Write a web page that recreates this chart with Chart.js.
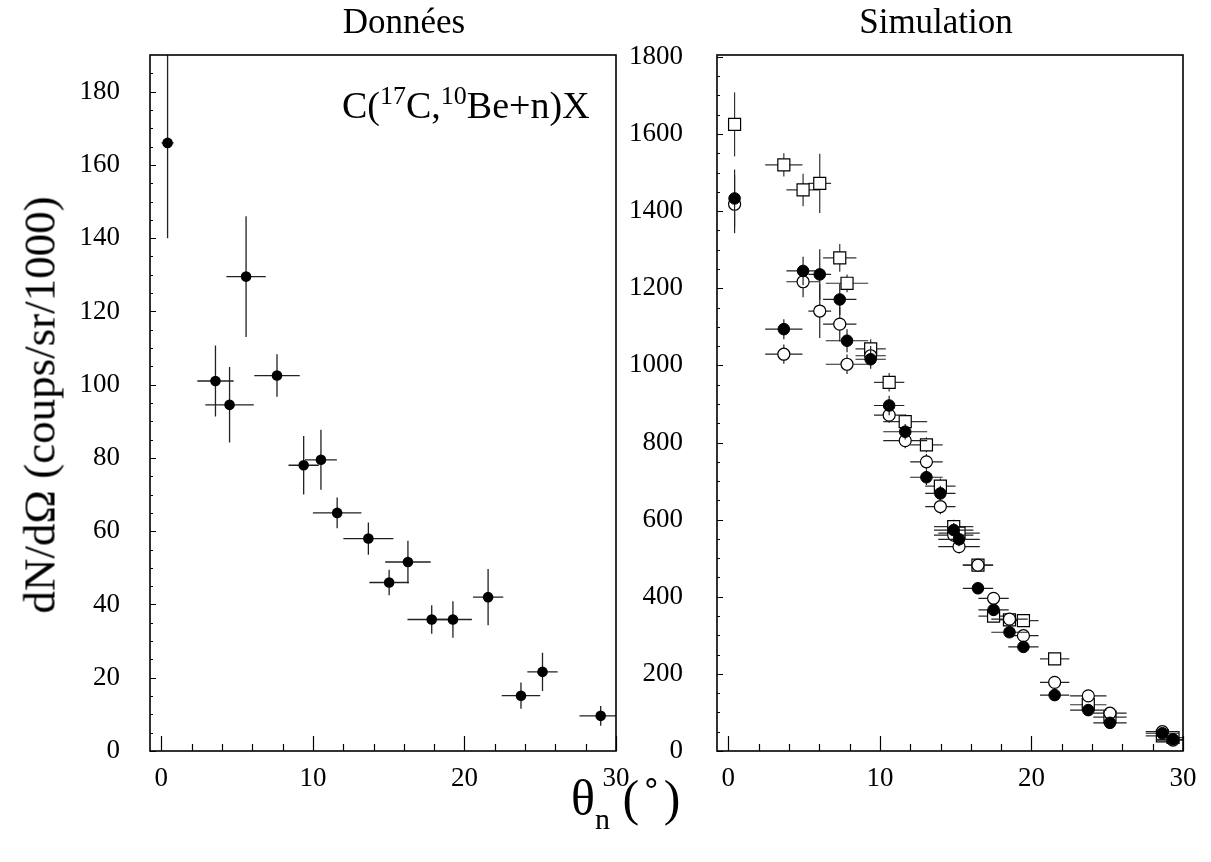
<!DOCTYPE html>
<html><head><meta charset="utf-8">
<script src="https://cdn.jsdelivr.net/npm/chart.js@4.4.1/dist/chart.umd.min.js"></script>
<style>
html,body{margin:0;padding:0;background:#fff;}
body{width:1211px;height:862px;position:relative;overflow:hidden;font-family:"Liberation Serif","DejaVu Serif",serif;color:#000;}
canvas{position:absolute;top:0;}
.t{position:absolute;white-space:nowrap;line-height:1;font-family:"Liberation Serif",serif;}
</style></head><body>
<canvas id="cL" width="640" height="862" style="left:0px"></canvas>
<canvas id="cR" width="611" height="862" style="left:600px"></canvas>
<div class="t" style="left:404px;top:4px;font-size:35px;transform:translateX(-50%)">Données</div>
<div class="t" style="left:936px;top:4px;font-size:35px;transform:translateX(-50%)">Simulation</div>
<div class="t" style="left:342px;top:86px;font-size:38px">C(<span style="font-size:26px;position:relative;top:-14px">17</span>C,<span style="font-size:26px;position:relative;top:-14px">10</span>Be+n)X</div>
<div class="t" style="left:40px;top:405px;font-size:45px;transform:translate(-50%,-50%) rotate(-90deg)">dN/dΩ (coups/sr/1000)</div>
<div class="t" style="left:571px;top:773px;font-size:50px">θ<span style="font-size:30px;position:relative;top:14px">n</span>&nbsp;(<span style="padding:0 4px">˚</span>)</div>
<script>
// ---- Left panel: data ----
const dataTheta      = [0.41, 3.57, 4.5, 5.59, 7.63, 9.39, 10.53, 11.6, 13.66, 15.03, 16.27, 17.84, 19.24, 21.56, 23.73, 25.15, 28.99];
const dataThetaErr   = [0.4, 1.2, 1.6, 1.3, 1.5, 1.0, 1.05, 1.6, 1.65, 1.3, 1.5, 1.6, 1.25, 1.0, 1.27, 1.0, 1.4];
const dataCounts     = [166, 101, 94.5, 129.5, 102.5, 78, 79.5, 65, 58, 46, 51.6, 35.9, 35.9, 42, 15.1, 21.6, 9.6];
const dataCountsErr  = [26, 9.7, 10.3, 16.5, 5.8, 8, 8.2, 4.2, 4.4, 3.5, 5.8, 3.9, 5, 7.7, 3.6, 5.2, 2.7];

// ---- Right panel: simulation ----
const simTheta     = [0.41, 3.66, 4.93, 6.03, 7.35, 7.83, 9.39, 10.61, 11.67, 13.07, 13.99, 14.87, 15.22, 16.47, 17.5, 18.55, 19.47, 21.53, 23.75, 25.18, 28.64, 29.34];
const simThetaErr  = [0, 1.23, 1.1, 0.75, 1.1, 1.4, 1.0, 1.0, 1.45, 1.07, 1.0, 1.3, 1.37, 1.0, 1.0, 1.2, 1.0, 0.97, 1.2, 1.1, 1.1, 1.1];
const simFilled    = [1433, 1094, 1245, 1236, 1171, 1064, 1016, 896, 828, 710, 668, 573, 549, 422, 366, 308, 270, 145, 106, 73, 46, 30];
const simFilledErr = [75, 26, 37, 65, 40, 30, 25, 25, 20, 20, 20, 18, 18, 15, 15, 12, 12, 10, 8, 7, 5, 5];
const simOpen      = [1418, 1029, 1217, 1141, 1107, 1003, 1025, 871, 805, 750, 634, 560, 530, 482, 396, 342, 299, 178, 143, 98, 50, 28];
const simOpenErr   = [75, 25, 40, 70, 45, 25, 25, 20, 20, 20, 20, 18, 18, 15, 15, 12, 12, 10, 8, 7, 5, 5];
const simSquare    = [1625, 1520, 1455, 1472, 1279, 1213, 1043, 956, 854, 794, 687, 582, 565, 482, 350, 340, 338, 239, 120, 88, 39, 35];
const simSquareErr = [83, 30, 42, 77, 36, 23, 25, 24, 20, 20, 20, 18, 18, 15, 15, 12, 12, 14, 8, 7, 5, 5];

// ---- Tick labels ----
const xTickLabels      = [0, 10, 20, 30];
const yTickLabelsLeft  = [0, 20, 40, 60, 80, 100, 120, 140, 160, 180];
const yTickLabelsRight = [0, 200, 400, 600, 800, 1000, 1200, 1400, 1600, 1800];

function range(a, b, s){ const r=[]; for(let v=a; v<=b+1e-9; v+=s) r.push(+v.toFixed(6)); return r; }

const panelPlugin = {
  id: 'panel',
  beforeDatasetDraw(chart, args) {
    const ds = chart.data.datasets[args.index];
    if (!ds.err) return;
    const ctx = chart.ctx, xs = chart.scales.x, ys = chart.scales.y, a = chart.chartArea;
    ctx.save();
    ctx.beginPath(); ctx.rect(a.left, a.top, a.right - a.left, a.bottom - a.top); ctx.clip();
    ctx.strokeStyle = ds.errColor; ctx.lineWidth = ds.errWidth;
    ds.data.forEach((p, i) => {
      const px = xs.getPixelForValue(p.x), py = ys.getPixelForValue(p.y);
      const ex = ds.err.x[i], ey = ds.err.y[i];
      ctx.beginPath();
      if (ex > 0) { ctx.moveTo(xs.getPixelForValue(p.x - ex), py); ctx.lineTo(xs.getPixelForValue(p.x + ex), py); }
      if (ey > 0) { ctx.moveTo(px, ys.getPixelForValue(p.y - ey)); ctx.lineTo(px, ys.getPixelForValue(p.y + ey)); }
      ctx.stroke();
    });
    ctx.restore();
  },
  afterDraw(chart, args, opts) {
    const ctx = chart.ctx, a = chart.chartArea, xs = chart.scales.x, ys = chart.scales.y;
    ctx.save();
    ctx.strokeStyle = '#000';
    ctx.lineWidth = 1.2;
    ctx.beginPath();
    opts.xMinor.forEach(v => {
      const p = Math.round(xs.getPixelForValue(v)) + 0.5;
      const L = opts.xMajor.includes(v) ? 15 : 7;
      ctx.moveTo(p, a.bottom); ctx.lineTo(p, a.bottom - L);
    });
    opts.yMinor.forEach(v => {
      const p = Math.round(ys.getPixelForValue(v)) + 0.5;
      const L = opts.yMajor.includes(v) ? 6 : 3;
      ctx.moveTo(a.left, p); ctx.lineTo(a.left + L, p);
    });
    ctx.stroke();
    ctx.lineWidth = 1.6;
    ctx.strokeRect(a.left, a.top, a.right - a.left, a.bottom - a.top);
    ctx.restore();
  }
};

function makeScales(yMax, yTicks, yWidth, yPad) {
  return {
    x: {
      type: 'linear', min: -0.75, max: 30,
      afterBuildTicks: s => { s.ticks = xTickLabels.map(v => ({ value: v })); },
      afterFit: s => { s.height = 40; },
      grid: { display: false }, border: { display: false },
      ticks: { font: { family: 'Liberation Serif', size: 27 }, color: '#000', padding: 4, maxRotation: 0, autoSkip: false, callback: v => String(v) }
    },
    y: {
      type: 'linear', min: 0, max: yMax,
      afterBuildTicks: s => { s.ticks = yTicks.map(v => ({ value: v })); },
      afterFit: s => { s.width = yWidth; },
      grid: { display: false }, border: { display: false },
      ticks: { font: { family: 'Liberation Serif', size: 27 }, color: '#000', padding: yPad, autoSkip: false, callback: v => String(v) }
    }
  };
}

const pts = (xs, ys) => xs.map((x, i) => ({ x, y: ys[i] }));

new Chart(document.getElementById('cL'), {
  type: 'scatter',
  data: { datasets: [{
    data: pts(dataTheta, dataCounts),
    pointStyle: 'circle', pointRadius: 5.3, backgroundColor: '#000', borderColor: '#000', borderWidth: 0,
    err: { x: dataThetaErr, y: dataCountsErr }, errColor: '#222', errWidth: 1.3
  }]},
  options: {
    responsive: false, animation: false, events: [],
    layout: { padding: { left: 0, top: 55, right: 24, bottom: 71 } },
    plugins: { legend: { display: false }, tooltip: { enabled: false },
      panel: { xMajor: [0, 10, 20, 30], xMinor: range(0, 30, 2), yMajor: yTickLabelsLeft, yMinor: range(0, 185, 5) } },
    scales: makeScales(190, yTickLabelsLeft, 150, 22)
  },
  plugins: [panelPlugin]
});

new Chart(document.getElementById('cR'), {
  type: 'scatter',
  data: { datasets: [
    { data: pts(simTheta, simFilled), pointStyle: 'circle', pointRadius: 5.8, backgroundColor: '#000', borderColor: '#000', borderWidth: 1,
      err: { x: simThetaErr, y: simFilledErr }, errColor: '#222', errWidth: 1.2 },
    { data: pts(simTheta, simOpen), pointStyle: 'circle', pointRadius: 6, backgroundColor: '#fff', borderColor: '#000', borderWidth: 1.2,
      err: { x: simThetaErr, y: simOpenErr }, errColor: '#222', errWidth: 1.2 },
    { data: pts(simTheta, simSquare), pointStyle: 'rect', pointRadius: 8.5, backgroundColor: '#fff', borderColor: '#000', borderWidth: 1.2,
      err: { x: simThetaErr, y: simSquareErr }, errColor: '#333', errWidth: 1.2 }
  ]},
  options: {
    responsive: false, animation: false, events: [],
    layout: { padding: { left: 0, top: 55, right: 28, bottom: 71 } },
    plugins: { legend: { display: false }, tooltip: { enabled: false },
      panel: { xMajor: [0, 10, 20, 30], xMinor: range(0, 30, 2), yMajor: yTickLabelsRight, yMinor: range(0, 1800, 50) } },
    scales: makeScales(1805, yTickLabelsRight, 117, 26)
  },
  plugins: [panelPlugin]
});
</script>
</body></html>
